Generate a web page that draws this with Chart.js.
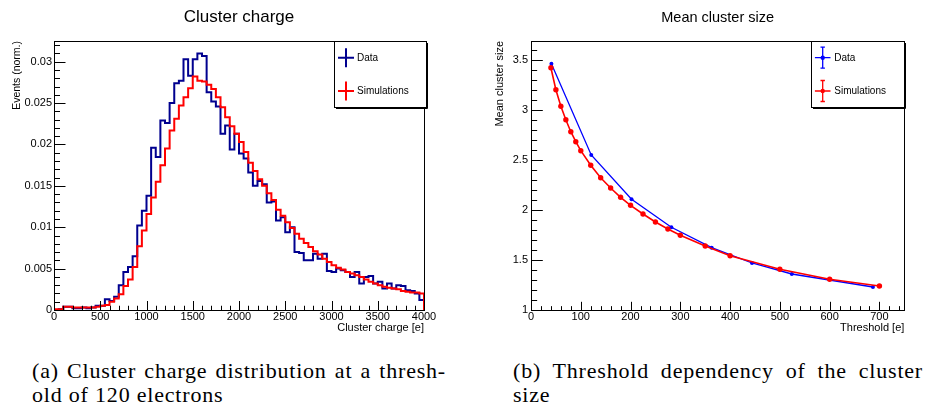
<!DOCTYPE html>
<html>
<head>
<meta charset="utf-8">
<script src="https://cdn.jsdelivr.net/npm/chart.js@4.4.1/dist/chart.umd.min.js"></script>
<style>
  html, body { margin: 0; padding: 0; background: #ffffff; }
  #wrap { position: relative; width: 925px; height: 408px; overflow: hidden; background: #fff; }
  #c1 { position: absolute; left: 0; top: 0; }
  #c2 { position: absolute; left: 460px; top: 0; }
  .cap { position: absolute; font-family: "Liberation Serif", "DejaVu Serif", serif; font-size: 22px; line-height: 24px; color: #000; letter-spacing: 0.8px; }
  .cap .l1 { text-align: justify; text-align-last: justify; white-space: nowrap; }
  #capA { left: 32px; top: 359px; width: 414px; }
  #capB { left: 513px; top: 359px; width: 410px; }
</style>
</head>
<body>
<div id="wrap">
  <canvas id="c1" width="460" height="340"></canvas>
  <canvas id="c2" width="465" height="340"></canvas>
  <div class="cap" id="capA"><div class="l1">(a) Cluster charge distribution at a thresh-</div><div>old of 120 electrons</div></div>
  <div class="cap" id="capB"><div class="l1">(b) Threshold dependency of the cluster</div><div>size</div></div>
</div>
<script>
// ---------------- DATA ----------------
const seriesNames = ['Data', 'Simulations'];

// Cluster charge histogram: 80 bins of 50 e from 0 to 4000 e (bin low edges = index * binWidth)
const chargeBinWidth = 50;
const chargeData = [
  0.0000, 0.0001, 0.0004, 0.0004, 0.0002, 0.0002, 0.0003, 0.0002, 0.0003, 0.0005,
  0.0005, 0.0013, 0.0011, 0.0016, 0.0030, 0.0046, 0.0052, 0.0065, 0.0102, 0.0120,
  0.0138, 0.0196, 0.0185, 0.0229, 0.0226, 0.0250, 0.0274, 0.0277, 0.0303, 0.0283,
  0.0303, 0.0310, 0.0307, 0.0263, 0.0252, 0.0246, 0.0213, 0.0223, 0.0194, 0.0213,
  0.0189, 0.0183, 0.0166, 0.0150, 0.0156, 0.0152, 0.0130, 0.0131, 0.0108, 0.0112,
  0.0094, 0.0100, 0.0070, 0.0069, 0.0060, 0.0060, 0.0068, 0.0062, 0.0068, 0.0047,
  0.0046, 0.0050, 0.0048, 0.0046, 0.0040, 0.0046, 0.0032, 0.0040, 0.0041, 0.0032,
  0.0034, 0.0026, 0.0032, 0.0026, 0.0030, 0.0029, 0.0024, 0.0023, 0.0020, 0.0012
];
const chargeSim = [
  0.0001, 0.0001, 0.0004, 0.0004, 0.0003, 0.0003, 0.0003, 0.0003, 0.0003, 0.0004,
  0.0005, 0.0006, 0.0010, 0.0014, 0.0019, 0.0029, 0.0037, 0.0052, 0.0077, 0.0096,
  0.0116, 0.0136, 0.0155, 0.0175, 0.0195, 0.0217, 0.0231, 0.0247, 0.0257, 0.0268,
  0.0282, 0.0277, 0.0276, 0.0272, 0.0267, 0.0257, 0.0245, 0.0233, 0.0222, 0.0213,
  0.0203, 0.0191, 0.0178, 0.0168, 0.0158, 0.0150, 0.0141, 0.0133, 0.0121, 0.0114,
  0.0106, 0.0099, 0.0092, 0.0086, 0.0081, 0.0076, 0.0071, 0.0067, 0.0062, 0.0058,
  0.0054, 0.0051, 0.0049, 0.0046, 0.0044, 0.0042, 0.0040, 0.0037, 0.0034, 0.0032,
  0.0030, 0.0028, 0.0027, 0.0026, 0.0025, 0.0023, 0.0022, 0.0021, 0.0021, 0.0020
];

// Mean cluster size vs threshold
const thresholdData = [41, 121, 202, 282, 363, 444, 524, 687];
const sizeData      = [3.463, 2.550, 2.107, 1.827, 1.623, 1.470, 1.360, 1.230];
const thresholdSim  = [40, 50, 60, 70, 80, 90, 100, 120, 140, 160, 180, 200, 225, 250, 275, 300, 350, 400, 500, 600, 700];
const sizeSim       = [3.423, 3.203, 3.037, 2.903, 2.783, 2.683, 2.593, 2.447, 2.323, 2.220, 2.127, 2.047, 1.960, 1.880, 1.810, 1.747, 1.640, 1.543, 1.407, 1.307, 1.240];

// Axis ranges / tick steps
const chargeAxis = { min: 0, max: 4000, step: 500, minorSub: 5 };
const eventsAxis = { min: 0, max: 0.0325, step: 0.005, minorSub: 5 };
const thrAxis    = { min: 0, max: 750, step: 100, minorSub: 5 };
const sizeAxis   = { min: 1, max: 3.69, step: 0.5, minorSub: 5 };

// ---------------- HELPERS ----------------
function histPoints(values, width) {
  const pts = [{ x: 0, y: 0 }];
  values.forEach((v, i) => pts.push({ x: i * width, y: v }));
  const end = values.length * width;
  pts.push({ x: end, y: values[values.length - 1] });
  pts.push({ x: end, y: 0 });
  return pts;
}
function xyPoints(xs, ys) { return xs.map((x, i) => ({ x: x, y: ys[i] })); }
function fmt(v) { return String(Number(v.toFixed(6))); }

const FONT = '"Liberation Sans", Arial, Helvetica, sans-serif';
Chart.defaults.font.family = FONT;
Chart.defaults.color = '#000';

// Inward ROOT-style tick marks + frame
const rootAxes = {
  id: 'rootAxes',
  afterDatasetsDraw(chart, args, o) {
    const { ctx, chartArea: a } = chart;
    const xs = chart.scales.x, ys = chart.scales.y;
    ctx.save();
    ctx.strokeStyle = '#000';
    ctx.lineWidth = 1;
    const L = Math.round(a.left) + 0.5, T = Math.round(a.top) + 0.5;
    const R = Math.round(a.right) + 0.5, B = Math.round(a.bottom) + 0.5;
    ctx.strokeRect(L, T, R - L, B - T);
    function marks(scale, ax, horiz, majLen, minLen) {
      const minor = ax.step / ax.minorSub;
      const n = Math.floor((ax.max - ax.min) / minor + 1e-6);
      ctx.beginPath();
      for (let i = 0; i <= n; i++) {
        const v = ax.min + i * minor;
        const isMaj = (i % ax.minorSub) === 0;
        const len = isMaj ? majLen : minLen;
        const p = Math.round(scale.getPixelForValue(v)) + 0.5;
        if (horiz) { ctx.moveTo(p, B); ctx.lineTo(p, B - len); }
        else { ctx.moveTo(L, p); ctx.lineTo(L + len, p); }
      }
      ctx.stroke();
    }
    marks(xs, o.xAxis, true, o.xMaj, o.xMaj / 2);
    marks(ys, o.yAxis, false, o.yMaj, o.yMaj / 2);
    ctx.restore();
  }
};

// Boxed legend in ROOT style (entries taken from the datasets)
const boxLegend = {
  id: 'boxLegend',
  afterDraw(chart, args, o) {
    const ctx = chart.ctx;
    const [x0, y0, x1, y1] = o.box;
    ctx.save();
    ctx.fillStyle = '#fff';
    ctx.fillRect(x0, y0, x1 - x0, y1 - y0);
    ctx.strokeStyle = '#000';
    ctx.lineWidth = 1;
    ctx.strokeRect(x0 + 0.5, y0 + 0.5, x1 - x0, y1 - y0);
    ctx.beginPath();
    ctx.moveTo(x1 + 1.5, y0 + 2); ctx.lineTo(x1 + 1.5, y1 + 1.5); ctx.lineTo(x0 + 2, y1 + 1.5);
    ctx.stroke();
    o.order.forEach((dsIndex, k) => {
      const ds = chart.data.datasets[dsIndex];
      const cy = o.rows[k];
      const cx = o.markX;
      ctx.strokeStyle = ds.borderColor;
      ctx.lineWidth = o.lineW;
      ctx.beginPath();
      ctx.moveTo(cx - o.hHalf, cy); ctx.lineTo(cx + o.hHalf, cy);
      ctx.moveTo(cx, cy - o.vHalf); ctx.lineTo(cx, cy + o.vHalf);
      if (o.caps) {
        ctx.moveTo(cx - o.caps, cy - o.vHalf); ctx.lineTo(cx + o.caps, cy - o.vHalf);
        ctx.moveTo(cx - o.caps, cy + o.vHalf); ctx.lineTo(cx + o.caps, cy + o.vHalf);
      }
      ctx.stroke();
      if (o.dot) {
        ctx.fillStyle = ds.borderColor;
        ctx.beginPath(); ctx.arc(cx, cy, o.dot, 0, Math.PI * 2); ctx.fill();
      }
      ctx.fillStyle = '#000';
      ctx.font = '10px ' + FONT;
      ctx.textAlign = 'left';
      ctx.textBaseline = 'middle';
      ctx.fillText(ds.label, o.textX, cy + 0.5);
    });
    ctx.restore();
  }
};

function linAxis(ax, extra, pad) {
  return Object.assign({
    type: 'linear',
    min: ax.min, max: ax.max,
    grid: { display: false, drawTicks: false },
    border: { display: false },
    ticks: {
      stepSize: ax.step, includeBounds: false, autoSkip: false, maxRotation: 0, padding: pad,
      color: '#000', font: { size: 11, family: FONT },
      callback: (v) => fmt(v)
    }
  }, extra);
}

// ---------------- LEFT: Cluster charge ----------------
new Chart(document.getElementById('c1'), {
  type: 'line',
  data: {
    datasets: [
      { label: seriesNames[0], data: histPoints(chargeData, chargeBinWidth), borderColor: '#00008f',
        borderWidth: 2, stepped: true, pointRadius: 0, fill: false, order: 1 },
      { label: seriesNames[1], data: histPoints(chargeSim, chargeBinWidth), borderColor: '#ff0000',
        borderWidth: 2, stepped: true, pointRadius: 0, fill: false, order: 0 }
    ]
  },
  options: {
    responsive: false, animation: false, devicePixelRatio: 1,
    layout: { padding: { left: 0, right: 36, top: 0, bottom: 0 } },
    scales: {
      x: linAxis(chargeAxis, {
        afterFit: (s) => { s.height = 30; },
        title: { display: true, text: 'Cluster charge [e]', align: 'end', color: '#000',
                 font: { size: 11, family: FONT }, padding: { top: 0, bottom: 5.4 } }
      }, 0),
      y: linAxis(eventsAxis, {
        afterFit: (s) => { s.width = 54; },
        title: { display: true, text: 'Events (norm.)', align: 'end', color: '#000',
                 font: { size: 10.5, family: FONT }, padding: { top: 10.7, bottom: 0 } }
      }, 2)
    },
    plugins: {
      legend: { display: false },
      tooltip: { enabled: false },
      title: { display: true, text: 'Cluster charge', fullSize: false, color: '#000',
               font: { size: 17, weight: 'normal', family: FONT }, padding: { top: 6.8, bottom: 13.8 } },
      rootAxes: { xAxis: chargeAxis, yAxis: eventsAxis, xMaj: 9.5, yMaj: 11 },
      boxLegend: { box: [334, 41, 426, 107], order: [0, 1], rows: [57.7, 91], markX: 346,
                   hHalf: 8, vHalf: 9.5, lineW: 2, caps: 0, dot: 0, textX: 357 }
    }
  },
  plugins: [rootAxes, boxLegend]
});

// ---------------- RIGHT: Mean cluster size ----------------
new Chart(document.getElementById('c2'), {
  type: 'line',
  data: {
    datasets: [
      { label: seriesNames[0], data: xyPoints(thresholdData, sizeData), borderColor: '#0000ff', backgroundColor: '#0000ff',
        borderWidth: 1.3, pointRadius: 2, pointBorderWidth: 0, pointStyle: 'circle', tension: 0, fill: false, order: 1 },
      { label: seriesNames[1], data: xyPoints(thresholdSim, sizeSim), borderColor: '#ff0000', backgroundColor: '#ff0000',
        borderWidth: 1.6, pointRadius: 2.7, pointBorderWidth: 0, pointStyle: 'circle', tension: 0, fill: false, order: 0 }
    ]
  },
  options: {
    responsive: false, animation: false, devicePixelRatio: 1,
    layout: { padding: { left: 0, right: 20.7, top: 0, bottom: 0 } },
    scales: {
      x: linAxis(thrAxis, {
        afterFit: (s) => { s.height = 30; },
        title: { display: true, text: 'Threshold [e]', align: 'end', color: '#000',
                 font: { size: 11, family: FONT }, padding: { top: 0, bottom: 5.7 } }
      }, 0),
      y: linAxis(sizeAxis, {
        afterFit: (s) => { s.width = 71; },
        title: { display: true, text: 'Mean cluster size', align: 'end', color: '#000',
                 font: { size: 11, family: FONT }, padding: { top: 33.4, bottom: 0 } }
      }, 3)
    },
    plugins: {
      legend: { display: false },
      tooltip: { enabled: false },
      title: { display: true, text: 'Mean cluster size', fullSize: false, color: '#000',
               font: { size: 14.5, weight: 'normal', family: FONT }, padding: { top: 9.3, bottom: 14.3 } },
      rootAxes: { xAxis: thrAxis, yAxis: sizeAxis, xMaj: 8.7, yMaj: 11.3 },
      boxLegend: { box: [351, 41, 444, 107], order: [0, 1], rows: [57.7, 91], markX: 362.7,
                   hHalf: 7.8, vHalf: 10.5, lineW: 1.3, caps: 2.2, dot: 2.2, textX: 374.3 }
    }
  },
  plugins: [rootAxes, boxLegend]
});
</script>
</body>
</html>
